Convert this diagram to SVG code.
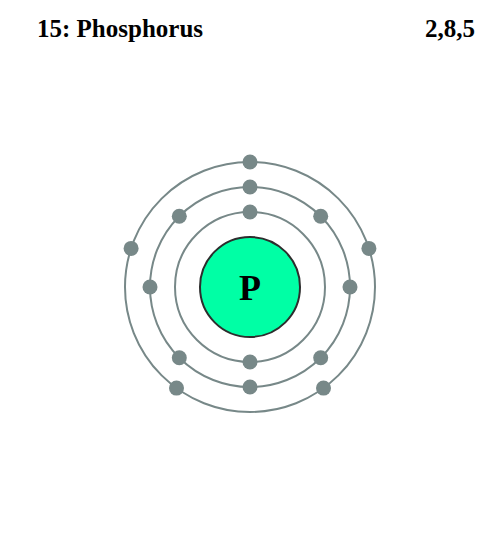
<svg xmlns="http://www.w3.org/2000/svg" width="500" height="538" viewBox="0 0 500 538">
<style>
.shell{fill:none;stroke:#778888;stroke-width:2}
.e{fill:#778888}
.t{font-family:"Liberation Serif",serif;font-weight:bold;font-size:25px;fill:#000}
</style>
<rect width="500" height="538" fill="#fff"/>
<text class="t" x="37" y="37">15: Phosphorus</text>
<text class="t" x="475" y="37" text-anchor="end">2,8,5</text>
<g id="shells">
<circle class="shell" cx="250" cy="287" r="75"/>
<circle class="shell" cx="250" cy="287" r="100"/>
<circle class="shell" cx="250" cy="287" r="125"/>
</g>
<g id="nucleus">
<circle cx="250" cy="287" r="50" fill="#00ffa5" stroke="#2d2d2d" stroke-width="2"/>
<text x="250" y="300" text-anchor="middle" font-family="Liberation Serif,serif" font-weight="bold" font-size="36">P</text>
</g>
<g id="electrons">
<circle class="e" cx="250" cy="212" r="7.5"/>
<circle class="e" cx="250" cy="362" r="7.5"/>
<circle class="e" cx="250" cy="187" r="7.5"/>
<circle class="e" cx="320.7" cy="216.3" r="7.5"/>
<circle class="e" cx="350" cy="287" r="7.5"/>
<circle class="e" cx="320.7" cy="357.7" r="7.5"/>
<circle class="e" cx="250" cy="387" r="7.5"/>
<circle class="e" cx="179.3" cy="357.7" r="7.5"/>
<circle class="e" cx="150" cy="287" r="7.5"/>
<circle class="e" cx="179.3" cy="216.3" r="7.5"/>
<circle class="e" cx="250" cy="162" r="7.5"/>
<circle class="e" cx="368.9" cy="248.4" r="7.5"/>
<circle class="e" cx="323.5" cy="388.1" r="7.5"/>
<circle class="e" cx="176.5" cy="388.1" r="7.5"/>
<circle class="e" cx="131.1" cy="248.4" r="7.5"/>
</g>
</svg>
